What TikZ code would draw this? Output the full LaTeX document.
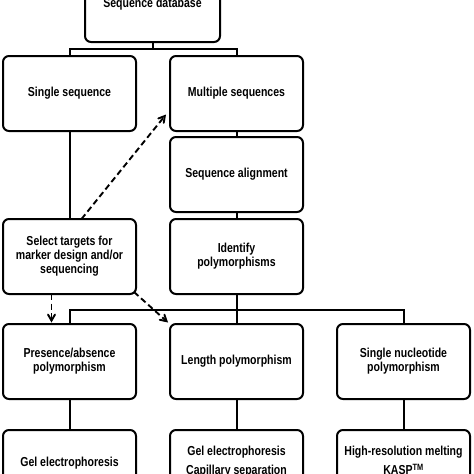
\documentclass[tikz,border=0pt]{standalone}
\usepackage{fontspec}
\setmainfont{Liberation Sans}[FakeStretch=0.81]
\usetikzlibrary{positioning, arrows}
\tikzstyle{box} = [rectangle, rounded corners=6pt, minimum width=133pt, minimum height=75pt, text centered, align=center, draw=black, line width=2pt, outer sep=0pt, font=\fontsize{13}{14}\selectfont\bfseries]
\tikzstyle{line} = [line width=2pt]
\tikzstyle{arrow} = [line width=1.9pt, dash pattern=on 6pt off 3.5pt, ->, >=angle 60]

\begin{document}
\begin{tikzpicture}
\useasboundingbox (0,0) rectangle (474pt,-474pt);
\clip (0,0) rectangle (474pt,-474pt);

\node (db) [box, minimum width=135pt] at (152.5pt,-4.5pt) {Sequence database};
\node (single) [box] at (69.5pt,-93.5pt) {Single sequence};
\node (multi) [box, right=34pt of single] {Multiple sequences};
\node (align) [box, below=6pt of multi] {Sequence alignment};
\node (ident) [box, below=7pt of align] {Identify\\polymorphisms};
\node (select) [box, left=34pt of ident] {Select targets for\\marker design and/or\\sequencing};

\node (pa) [box, below=30pt of select] {Presence/absence\\polymorphism};
\node (lp) [box, below=30pt of ident] {Length polymorphism};
\node (snp) [box, right=34pt of lp] {Single nucleotide\\polymorphism};

\node (gel) [box, below=31pt of pa, text height=7pt, text depth=9pt] {Gel electrophoresis};
\node (lpmethods) [box, below=31pt of lp, text height=21pt, text depth=7pt] {Gel electrophoresis\\[5pt]Capillary separation};
\node (snpmethods) [box, below=31pt of snp, text height=21pt, text depth=7pt] {High-resolution melting\\[5pt]KASP\textsuperscript{TM}};

\draw [line] (db.south) -- ++(0,-7pt) -| (single.north);
\draw [line] (db.south) -- ++(0,-7pt) -| (multi.north);
\draw [line] (single) -- (select);
\draw [line] (multi) -- (align);
\draw [line] (align) -- (ident);

\draw [line] (ident.south) -- ++(0,-16pt) -| (pa.north);
\draw [line] (ident) -- (lp);
\draw [line] (ident.south) -- ++(0,-16pt) -| (snp.north);

\draw [line] (pa) -- (gel);
\draw [line] (lp) -- (lpmethods);
\draw [line] (snp) -- (snpmethods);

\draw [arrow] ([xshift=12pt]select.north) -- ([xshift=-4pt,yshift=-21pt]multi.west);
\draw [arrow] ([xshift=-18pt]select.south) -- ([xshift=-18pt,yshift=1.5pt]pa.north);
\draw [arrow] ([xshift=-2pt,yshift=2pt]select.south east) -- ([xshift=-2pt,yshift=1.5pt]lp.north west);

\end{tikzpicture}
\end{document}
